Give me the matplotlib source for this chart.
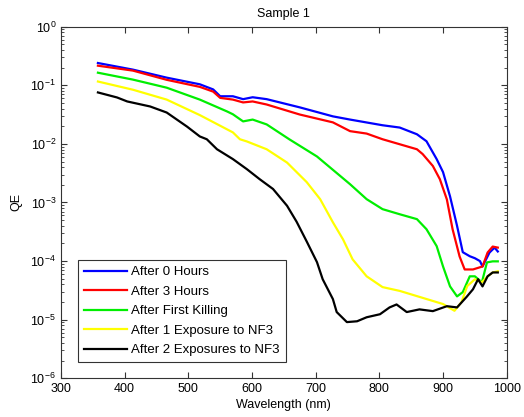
import matplotlib
matplotlib.use("Agg")
import matplotlib.pyplot as plt
from matplotlib.ticker import LogLocator, FixedLocator, NullLocator

plt.rcParams['font.family'] = ['Liberation Sans', 'DejaVu Sans']
plt.rcParams['mathtext.default'] = 'regular'

labels = ["After 0 Hours", "After 3 Hours", "After First Killing",
          "After 1 Exposure to NF3", "After 2 Exposures to NF3"]
colors = ["#0000ff", "#ff0000", "#00ee00", "#ffff00", "#000000"]

wl_0h = [358, 413, 466, 518, 539, 550, 570, 586, 601, 623, 675, 727, 754, 805, 832, 859,
         874, 890, 900, 911, 922, 931, 942, 950, 958, 962, 973, 981, 986]
qe_0h = [0.24, 0.185, 0.135, 0.104, 0.085, 0.065, 0.065, 0.058, 0.0625, 0.058, 0.042, 0.0295,
         0.026, 0.0208, 0.019, 0.0146, 0.0111, 0.0055, 0.0033, 0.00127, 0.0004, 0.000142,
         0.000121, 0.000112, 0.0001, 8.1e-5, 0.00014, 0.00017, 0.000146]

wl_3h = [358, 413, 466, 518, 539, 550, 570, 586, 601, 623, 675, 727, 754, 780, 805, 859,
         868, 884, 895, 906, 915, 926, 934, 947, 962, 970, 978, 986]
qe_3h = [0.216, 0.178, 0.124, 0.094, 0.078, 0.061, 0.057, 0.051, 0.053, 0.047, 0.0317,
         0.0233, 0.0165, 0.015, 0.012, 0.0081, 0.0067, 0.0042, 0.0025, 0.00113, 0.00035,
         0.00012, 7.2e-5, 7.2e-5, 8.1e-5, 0.00014, 0.000177, 0.00017]

wl_kill = [358, 413, 466, 518, 561, 570, 586, 601, 623, 659, 702, 754, 780, 805, 832, 859,
           874, 890, 900, 911, 922, 931, 942, 950, 961, 969, 978, 986]
qe_kill = [0.164, 0.125, 0.091, 0.057, 0.0357, 0.032, 0.0242, 0.026, 0.0215, 0.0119, 0.0061,
           0.00205, 0.00114, 0.00077, 0.00063, 0.00052, 0.00035, 0.00018, 8.1e-5, 3.7e-5,
           2.5e-5, 2.95e-5, 5.5e-5, 5.5e-5, 4.35e-5, 9.5e-5, 9.9e-5, 9.9e-5]

wl_nf1 = [358, 413, 466, 518, 570, 581, 592, 623, 655, 686, 707, 727, 743, 758, 780, 805,
          832, 863, 900, 918, 929, 938, 950, 961, 970, 978, 986]
qe_nf1 = [0.116, 0.084, 0.057, 0.031, 0.0157, 0.012, 0.011, 0.0081, 0.0048, 0.00222, 0.00114,
          0.00046, 0.000234, 0.000107, 5.5e-5, 3.6e-5, 3.1e-5, 2.45e-5, 1.85e-5, 1.42e-5,
          2.0e-5, 3.75e-5, 4.9e-5, 4.35e-5, 5.5e-5, 6.4e-5, 6.7e-5]

wl_nf2 = [358, 388, 404, 440, 466, 498, 518, 529, 545, 570, 592, 612, 633, 655, 670, 686,
          702, 711, 727, 733, 749, 765, 780, 801, 816, 827, 843, 863, 884, 906, 922, 937,
          947, 955, 962, 970, 978, 986]
qe_nf2 = [0.0755, 0.062, 0.053, 0.0435, 0.0343, 0.0197, 0.0134, 0.012, 0.0081, 0.0055, 0.0037,
          0.0025, 0.0017, 0.00088, 0.00047, 0.000215, 9.6e-5, 4.9e-5, 2.25e-5, 1.35e-5, 9.1e-6,
          9.4e-6, 1.1e-5, 1.24e-5, 1.62e-5, 1.82e-5, 1.35e-5, 1.5e-5, 1.4e-5, 1.7e-5, 1.62e-5,
          2.45e-5, 3.3e-5, 4.9e-5, 3.7e-5, 5.5e-5, 6.4e-5, 6.4e-5]

series = [(wl_0h, qe_0h), (wl_3h, qe_3h), (wl_kill, qe_kill), (wl_nf1, qe_nf1), (wl_nf2, qe_nf2)]

x_ticks = [300, 400, 500, 600, 700, 800, 900, 1000]

fig = plt.figure(figsize=(5.24, 4.17), dpi=100)
ax = fig.add_axes([0.1164, 0.0928, 0.8506, 0.8432])

for (wl, qe), lab, c in zip(series, labels, colors):
    ax.plot(wl, qe, color=c, lw=1.6, label=lab)

ax.set_yscale('log')
ax.set_xlim(300, 1000)
ax.set_ylim(1e-6, 1)
ax.xaxis.set_major_locator(FixedLocator(x_ticks))
ax.xaxis.set_minor_locator(NullLocator())
ax.yaxis.set_major_locator(LogLocator(base=10, numticks=10))
ax.yaxis.set_minor_locator(LogLocator(base=10, subs=range(2, 10), numticks=20))
ax.tick_params(which='both', direction='in', top=True, right=True, labelsize=9, color='#333333')
ax.tick_params(which='major', length=4.5)
ax.tick_params(which='minor', length=2.5)
for s in ax.spines.values():
    s.set_color('#333333')
    s.set_linewidth(0.8)

ax.set_title("Sample 1", fontsize=9, pad=7)
ax.set_xlabel("Wavelength (nm)", fontsize=9, labelpad=3)
ax.set_ylabel("QE", fontsize=9, labelpad=6)

leg = ax.legend(loc='lower left', bbox_to_anchor=(0.038, 0.046), borderaxespad=0,
                fontsize=9.5, frameon=True, fancybox=False, edgecolor='black',
                handlelength=3.3, handletextpad=0.3, labelspacing=0.55,
                borderpad=0.45)
leg.get_frame().set_linewidth(0.8)

fig.savefig("out.png", dpi=100)
